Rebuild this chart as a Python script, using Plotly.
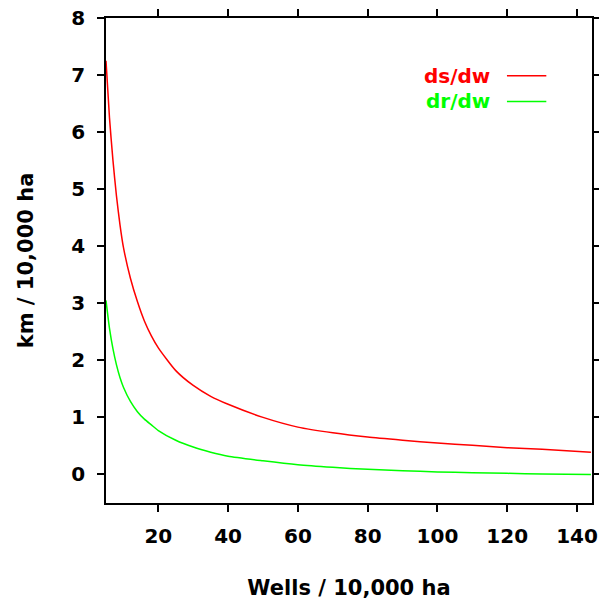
import plotly.graph_objects as go

# Data
wells = [5, 6, 7, 8, 9, 10, 12, 14, 16, 18, 20, 25, 30, 35, 40, 50, 60, 70, 80, 90, 100, 110, 120, 130, 144]
ds_dw = [7.25, 6.25, 5.5, 4.88, 4.38, 3.98, 3.44, 3.03, 2.69, 2.43, 2.22, 1.82, 1.56, 1.37, 1.23, 1.0, 0.83, 0.73, 0.655, 0.6, 0.55, 0.51, 0.47, 0.44, 0.39]
dr_dw = [3.05, 2.56, 2.2, 1.92, 1.7, 1.53, 1.28, 1.1, 0.97, 0.87, 0.77, 0.6, 0.48, 0.39, 0.32, 0.24, 0.17, 0.125, 0.09, 0.065, 0.045, 0.032, 0.02, 0.01, 0.0]
series_names = ["ds/dw", "dr/dw"]
series_colors = ["#ff0000", "#00ff00"]
x_ticks = [20, 40, 60, 80, 100, 120, 140]
y_ticks = [0, 1, 2, 3, 4, 5, 6, 7, 8]

FAM = "DejaVu Sans, Liberation Sans, sans-serif"
tick_font = dict(family=FAM, size=20, color="black", weight="bold")
title_font = dict(family=FAM, size=21, color="black", weight="bold")

fig = go.Figure()
for name, ys, col in zip(series_names, [ds_dw, dr_dw], series_colors):
    fig.add_trace(go.Scatter(x=wells, y=ys, mode="lines", name=name,
                             line=dict(color=col, width=1.5, shape="spline", smoothing=0.6),
                             showlegend=False))

# gnuplot-style key: text right-aligned, line sample to the right
key_y = [0.881, 0.828]
for name, col, yk in zip(series_names, series_colors, key_y):
    fig.add_annotation(x=0.794, y=yk, xref="paper", yref="paper", text=name,
                       showarrow=False, xanchor="right", yanchor="middle",
                       font=dict(family=FAM, size=20, color=col, weight="bold"))
    fig.add_shape(type="line", xref="paper", yref="paper", x0=0.825, x1=0.906, y0=yk, y1=yk,
                  line=dict(color=col, width=1.5))

axis_common = dict(showline=True, linecolor="black", linewidth=1.5, mirror="ticks",
                   ticks="outside", ticklen=7, tickcolor="black", tickwidth=1.5,
                   showgrid=False, zeroline=False, tickfont=tick_font, automargin=False,
                   ticklabeloverflow="allow")

fig.update_layout(
    width=599, height=601,
    margin=dict(l=106, r=7, t=18, b=98, autoexpand=False),
    paper_bgcolor="white", plot_bgcolor="white",
    xaxis=dict(range=[5, 144.3], tickvals=x_ticks, ticklabelstandoff=7,
               title=dict(text="Wells / 10,000 ha", font=title_font, standoff=34), **axis_common),
    yaxis=dict(range=[-0.5, 8], tickvals=y_ticks, ticklabelstandoff=8,
               title=dict(text="km / 10,000 ha", font=title_font, standoff=32), **axis_common),
)

fig.write_html("out.html", config={"displayModeBar": False},
               post_script="document.body.style.margin='0';")
